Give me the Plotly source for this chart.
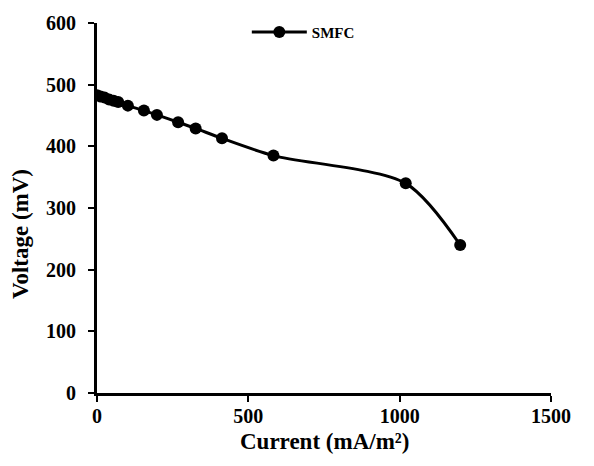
import plotly.graph_objects as go

current = [0, 12, 25, 40, 55, 70, 102, 155, 198, 268, 326, 413, 583, 1020, 1200]
voltage = [483, 481, 479, 476, 474, 472, 466, 458, 451, 439, 429, 413, 385, 340, 240]
series_name = "SMFC"
x_ticks = [0, 500, 1000, 1500]
y_ticks = [0, 100, 200, 300, 400, 500, 600]
x_title = "Current (mA/m²)"
y_title = "Voltage (mV)"

FONT = "Liberation Serif"

fig = go.Figure()
fig.add_trace(go.Scatter(
    x=current, y=voltage, name="<b>" + series_name + "</b>", mode="lines+markers",
    line=dict(color="black", width=3, shape="spline", smoothing=0.8),
    marker=dict(color="black", size=12),
))

axis_common = dict(
    showline=True, linecolor="black", linewidth=3, ticks="outside",
    tickcolor="black", tickwidth=2, ticklen=6, showgrid=False, zeroline=False,
    tickfont=dict(family=FONT, size=20, color="black"),
)

fig.update_layout(
    width=594, height=466,
    margin=dict(l=97, r=43, t=19, b=73),
    plot_bgcolor="white", paper_bgcolor="white",
    font=dict(family=FONT, color="black"),
    xaxis=dict(range=[0, 1500], tickvals=x_ticks,
               ticktext=["<b>%d</b>" % v for v in x_ticks],
               ticklabelstandoff=-3, **axis_common),
    yaxis=dict(range=[0, 600], tickvals=y_ticks,
               ticktext=["<b>%d</b>" % v for v in y_ticks],
               ticklabelstandoff=8, **axis_common),
    showlegend=True,
    legend=dict(x=0.33, y=0.975, xanchor="left", yanchor="middle",
                font=dict(family=FONT, size=15, color="black"),
                bgcolor="rgba(0,0,0,0)", itemwidth=55),
    annotations=[
        dict(text="<b>" + x_title + "</b>", xref="paper", yref="paper",
             x=0.5, y=-0.13, xanchor="center", yanchor="middle", showarrow=False,
             font=dict(family=FONT, size=23, color="black")),
        dict(text="<b>" + y_title + "</b>", xref="paper", yref="paper",
             x=-0.167, y=0.43, xanchor="center", yanchor="middle", showarrow=False,
             textangle=-90, font=dict(family=FONT, size=23, color="black")),
    ],
)

fig.write_html("out.html")
